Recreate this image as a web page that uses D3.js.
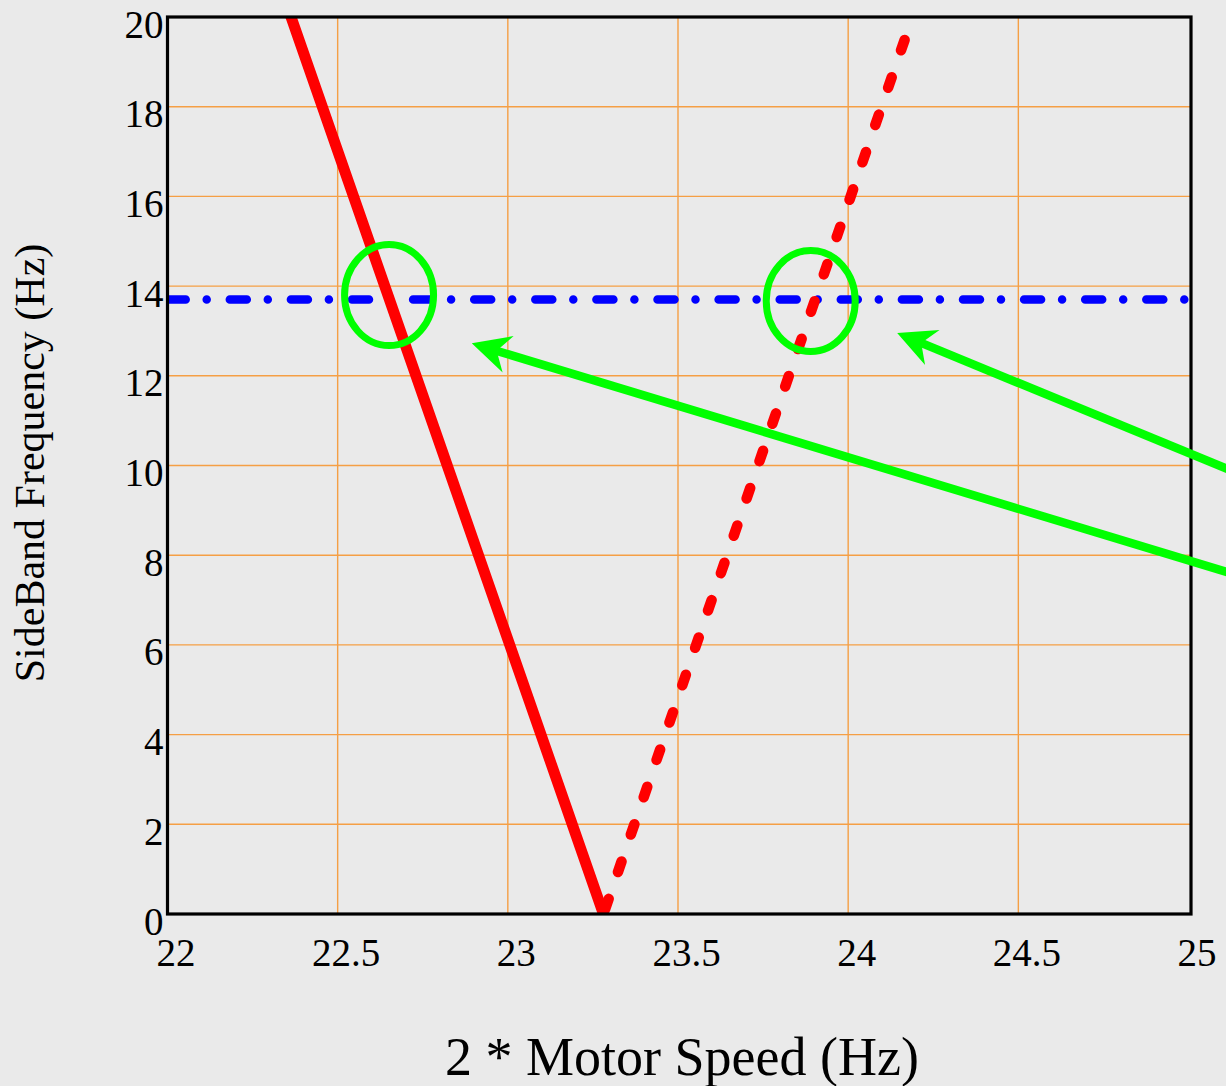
<!DOCTYPE html>
<html><head><meta charset="utf-8">
<script src="https://cdn.jsdelivr.net/npm/d3@7"></script>
<style>
html,body{margin:0;padding:0;background:#eaeaea;}
svg{display:block;}
text{font-family:"Liberation Serif","DejaVu Serif",serif;fill:#000;}
</style></head>
<body>
<svg id="chart" width="1226" height="1086"></svg>
<script>
// ---- data ----
const xTicks = [22, 22.5, 23, 23.5, 24, 24.5, 25];
const xTickLabels = ["22", "22.5", "23", "23.5", "24", "24.5", "25"];
const yTicks = [0, 2, 4, 6, 8, 10, 12, 14, 16, 18, 20];
const yTickLabels = ["0", "2", "4", "6", "8", "10", "12", "14", "16", "18", "20"];
// lower sideband (solid red)
const lowerX = [22.363, 23.281];
const lowerY = [20, 0];
// upper sideband (dashed red)
const upperX = [23.281, 24.189];
const upperY = [0, 20];
// measured sideband frequency (blue dash-dot)
const measX = [22, 25];
const measY = [13.7, 13.7];
// annotation circles (centres, data units)
const circleX = [22.651, 23.890];
const circleY = [13.80, 13.67];
// annotation arrows (tip and tail, data units)
const arrowTipX = [22.894, 24.144];
const arrowTipY = [12.725, 12.954];
const arrowTailX = [25.328, 25.328];
const arrowTailY = [7.13, 9.253];
const xTitle = "2 * Motor Speed (Hz)";
const yTitle = "SideBand Frequency (Hz)";

// ---- drawing ----
const svg = d3.select("#chart");
svg.append("rect").attr("width", 1226).attr("height", 1086).attr("fill", "#eaeaea");

const x = d3.scaleLinear().domain([22, 25]).range([167.5, 1188.5]);
const y = d3.scaleLinear().domain([0, 20]).range([914, 17]);

const x0 = x(22), x1 = x(25) + 2.5, y0 = y(0), y1 = y(20);

svg.append("defs").append("clipPath").attr("id", "plotclip")
  .append("rect").attr("x", x0).attr("y", y1).attr("width", x1 - x0).attr("height", y0 - y1);

// grid
const grid = svg.append("g");
grid.selectAll("line.v").data(xTicks.filter(d => d > 22 && d < 25)).join("line")
  .attr("x1", d => x(d)).attr("x2", d => x(d)).attr("y1", y1).attr("y2", y0)
  .attr("stroke", "#f59f45").attr("stroke-width", 1.4);
grid.selectAll("line.h").data(yTicks.filter(d => d > 0 && d < 20)).join("line")
  .attr("y1", d => y(d)).attr("y2", d => y(d)).attr("x1", x0).attr("x2", x1)
  .attr("stroke", "#f59f45").attr("stroke-width", 1.4);

const plot = svg.append("g").attr("clip-path", "url(#plotclip)");
const line = d3.line().x(d => x(d[0])).y(d => y(d[1]));

plot.append("path").datum(d3.zip(measX, measY)).attr("d", line)
  .attr("fill", "none").attr("stroke", "#0000ff").attr("stroke-width", 8.5)
  .attr("stroke-linecap", "round").attr("stroke-dasharray", "17,21,0,23.1")
  .attr("stroke-dashoffset", -1.2);

plot.append("path").datum(d3.zip(lowerX, lowerY)).attr("d", line)
  .attr("fill", "none").attr("stroke", "#ff0000").attr("stroke-width", 11)
  .attr("stroke-linecap", "round");

plot.append("path").datum(d3.zip(upperX, upperY)).attr("d", line)
  .attr("fill", "none").attr("stroke", "#ff0000").attr("stroke-width", 10.5)
  .attr("stroke-linecap", "round").attr("stroke-dasharray", "11,28.5")
  .attr("stroke-dashoffset", 34.5);

// frame
svg.append("rect").attr("x", x0).attr("y", y1).attr("width", x1 - x0).attr("height", y0 - y1)
  .attr("fill", "none").attr("stroke", "#000").attr("stroke-width", 3.2);

// axes (labels only)
const xAxis = svg.append("g").attr("transform", `translate(0,${y0})`)
  .call(d3.axisBottom(x).tickValues(xTicks).tickFormat((d, i) => xTickLabels[i]).tickSize(0));
xAxis.select(".domain").remove();
xAxis.selectAll("text").attr("dy", null).attr("y", 52).attr("x", 8)
  .attr("font-size", 39).attr("font-family", "Liberation Serif").attr("fill", "#000");

const yAxis = svg.append("g").attr("transform", `translate(${x0},0)`)
  .call(d3.axisLeft(y).tickValues(yTicks).tickFormat((d, i) => yTickLabels[i]).tickSize(0));
yAxis.select(".domain").remove();
yAxis.selectAll("text").attr("dy", null).attr("y", 20).attr("x", -4)
  .attr("font-size", 39).attr("font-family", "Liberation Serif").attr("fill", "#000");

// titles
svg.append("text").attr("x", 682).attr("y", 1075).attr("text-anchor", "middle")
  .attr("font-size", 54).text(xTitle);
svg.append("text").attr("transform", "translate(44,463) rotate(-90)").attr("text-anchor", "middle")
  .attr("font-size", 42).text(yTitle);

// annotations
const green = "#00ff00";
svg.selectAll("ellipse.ann").data(d3.zip(circleX, circleY)).join("ellipse")
  .attr("cx", d => x(d[0])).attr("cy", d => y(d[1])).attr("rx", 44.5).attr("ry", 50.5)
  .attr("fill", "none").attr("stroke", green).attr("stroke-width", 7);

const arrows = d3.zip(arrowTipX, arrowTipY, arrowTailX, arrowTailY);
arrows.forEach(([tx, ty, ex, ey]) => {
  const px = x(tx), py = y(ty), qx = x(ex), qy = y(ey);
  const L = Math.hypot(qx - px, qy - py), ux = (qx - px) / L, uy = (qy - py) / L;
  const nx = -uy, ny = ux;
  const hl = 38, hw = 19, notch = 26;
  svg.append("line").attr("x1", px + ux * 20).attr("y1", py + uy * 20).attr("x2", qx).attr("y2", qy)
    .attr("stroke", green).attr("stroke-width", 8.5);
  const pts = [[px, py],
    [px + ux * hl + nx * hw, py + uy * hl + ny * hw],
    [px + ux * notch, py + uy * notch],
    [px + ux * hl - nx * hw, py + uy * hl - ny * hw]];
  svg.append("polygon").attr("points", pts.map(p => p.join(",")).join(" ")).attr("fill", green);
});
</script>
</body></html>
